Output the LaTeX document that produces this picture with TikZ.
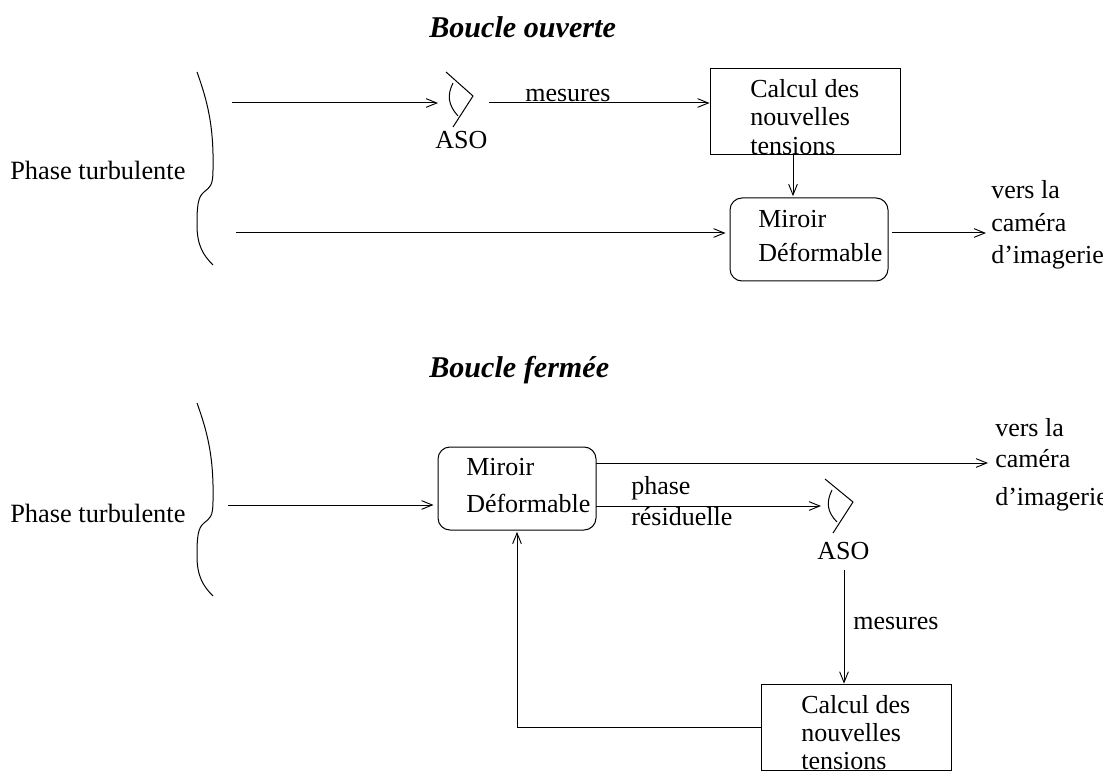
\documentclass[tikz,border=0pt]{standalone}
\usepackage{fontspec}
\setmainfont{Liberation Serif}
\usetikzlibrary{arrows.meta}
\tikzset{
  lbl/.style={anchor=base west,inner sep=0pt,font=\fontsize{19.5pt}{23pt}\selectfont},
  phs/.style={anchor=base west,inner sep=0pt,font=\fontsize{19.8pt}{23pt}\selectfont},
  ttl/.style={anchor=base west,inner sep=0pt,font=\fontsize{22.6pt}{26pt}\selectfont\bfseries\itshape},
  ln/.style={line width=0.75pt,black},
  arr/.style={ln,-{Straight Barb[length=8pt,width=6.5pt,line width=0.7pt]}},
  sq/.style={draw,ln,inner sep=0pt,minimum width=142.5pt,minimum height=65pt},
  rnd/.style={draw,ln,inner sep=0pt,rounded corners=9pt,minimum width=118.5pt,minimum height=62.25pt},
}
\begin{document}
\begin{tikzpicture}[x=0.75pt,y=-0.75pt]
\useasboundingbox (0,0) rectangle (1112,773);
% --- Boucle ouverte
\node[ttl] (t1) at (429,38) {Boucle ouverte};
\node[phs] (ph1) at (10,180) {Phase turbulente};
\draw[ln] (197,72) .. controls (207,100) and (214,125) .. (213,170) .. controls (213,186) and (210,187) .. (204,192) .. controls (198,197) and (197,205) .. (197,225) .. controls (197,245) and (203,255) .. (213,265);
\node[sq] (calc1) at (805,111.5) {};
\node[rnd] (mir1) at (809,239.5) {};
\node[lbl] (c1a) at (750,97.5) {Calcul des};
\node[lbl] (c1b) at (750,126) {nouvelles};
\node[lbl] (c1c) at (750,155) {tensions};
\node[lbl] (m1a) at (758,228) {Miroir};
\node[lbl] (m1b) at (758,262) {Déformable};
\node[lbl] (aso1) at (435,149) {ASO};
\node[lbl] (mes1) at (525,102) {mesures};
\node[lbl] (v1a) at (991,199) {vers la};
\node[lbl] (v1b) at (991,232) {caméra};
\node[lbl] (v1c) at (991,264) {d’imagerie};
\coordinate (i1) at (232,103);
\coordinate (e1) at (438,103);
\coordinate (o1) at (489,103);
\coordinate (i2) at (236,233);
\coordinate (x1) at (793,0);
\coordinate (o2) at (892,233);
\coordinate (e2) at (986,233);
\draw[arr] (i1) -- (e1);
\draw[ln] (446,72) -- (473,96) -- (453,127);
\draw[ln] (453,83) .. controls (447,95) and (448,105) .. (458,116);
\draw[arr] (o1) -- (o1 -| calc1.west);
\draw[arr,shorten >=1pt] (x1 |- calc1.south) -- (x1 |- mir1.north);
\draw[arr,shorten >=3pt] (i2) -- (i2 -| mir1.west);
\draw[arr] (o2) -- (e2);
% --- Boucle fermee
\node[ttl] (t2) at (429,377) {Boucle fermée};
\node[phs] (ph2) at (10,522) {Phase turbulente};
\draw[ln] (197,403) .. controls (207,431) and (214,456) .. (213,501) .. controls (213,517) and (210,518) .. (204,523) .. controls (198,528) and (197,536) .. (197,556) .. controls (197,576) and (203,586) .. (213,596);
\node[rnd] (mir2) at (517,488.5) {};
\node[sq] (calc2) at (856.5,727.5) {};
\node[lbl] (m2a) at (466,475) {Miroir};
\node[lbl] (m2b) at (466,512) {Déformable};
\node[lbl] (p2a) at (631,494) {phase};
\node[lbl] (p2b) at (631,525) {résiduelle};
\node[lbl] (aso2) at (817,559) {ASO};
\node[lbl] (mes2) at (853,629) {mesures};
\node[lbl] (c2a) at (801,713) {Calcul des};
\node[lbl] (c2b) at (801,741) {nouvelles};
\node[lbl] (c2c) at (801,769) {tensions};
\node[lbl] (v2a) at (995,436) {vers la};
\node[lbl] (v2b) at (995,467) {caméra};
\begin{scope}
\clip (990,480) rectangle (1102,520);
\node[lbl] (v2c) at (995,505) {d’imagerie};
\end{scope}
\coordinate (i3) at (228,505);
\coordinate (o3) at (596,463);
\coordinate (e3) at (988,463);
\coordinate (o4) at (596,506);
\coordinate (e4) at (821,506);
\coordinate (a2) at (844,570);
\coordinate (b2) at (517,0);
\draw[arr,shorten >=3pt] (i3) -- (i3 -| mir2.west);
\draw[arr] (o3) -- (e3);
\draw[arr] (o4) -- (e4);
\draw[ln] (825,479) -- (853,502) -- (833,533);
\draw[ln] (832,490) .. controls (826,502) and (827,512) .. (837,522);
\draw[arr] (a2) -- (a2 |- calc2.north);
\draw[arr,shorten >=1pt] (calc2.west) -- (b2 |- calc2.west) -- (b2 |- mir2.south);
\end{tikzpicture}
\end{document}
